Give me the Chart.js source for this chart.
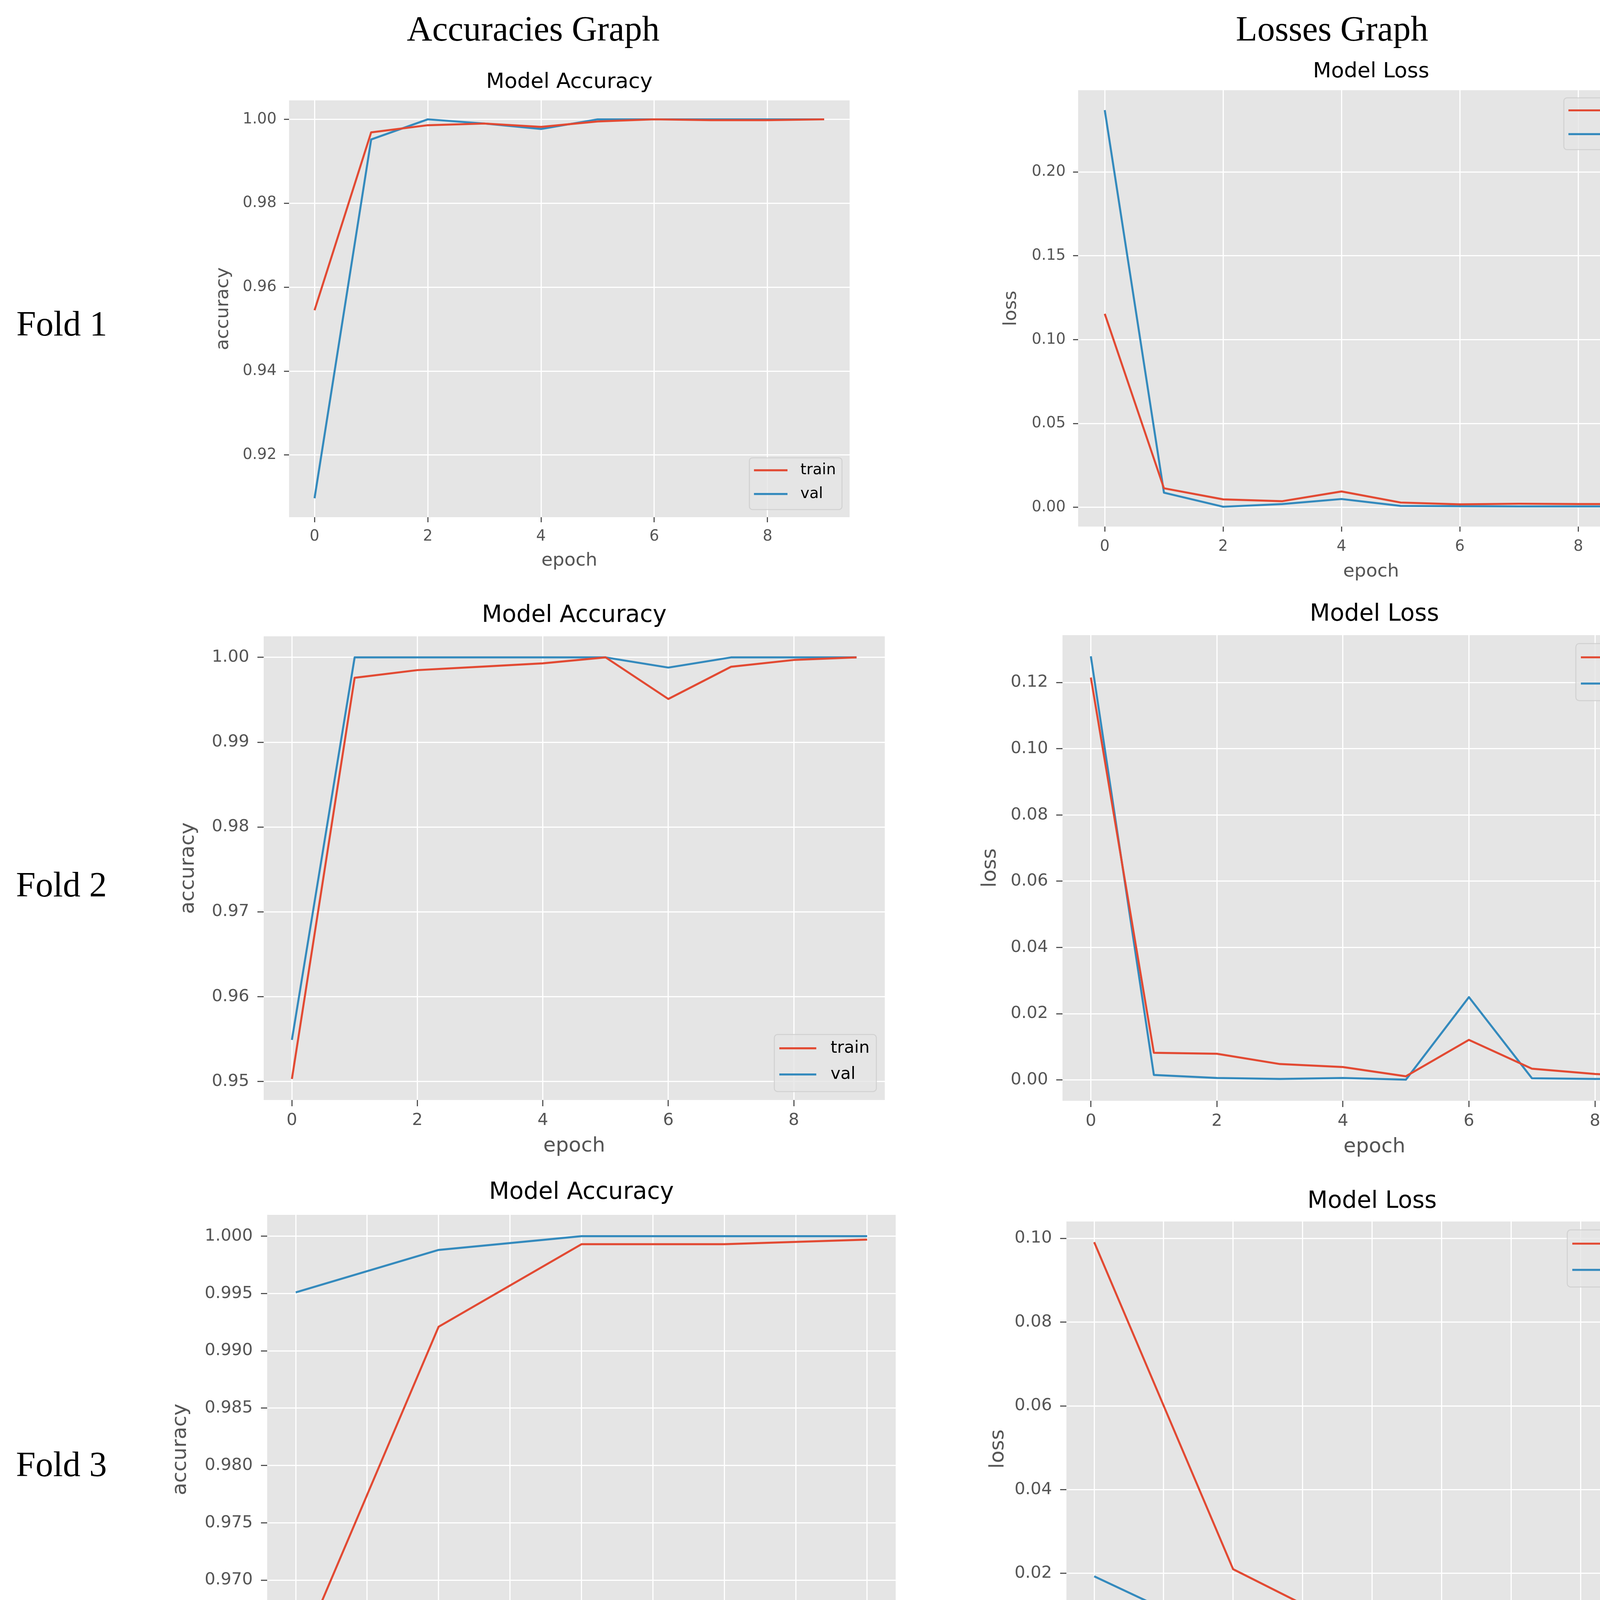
<!DOCTYPE html>
<html>
<head>
<meta charset="utf-8">
<title>Accuracies and Losses per fold</title>
<script src="https://cdn.jsdelivr.net/npm/chart.js@4.4.1/dist/chart.umd.min.js"></script>
<style>
  html, body { margin: 0; padding: 0; background: #fff; }
  body { width: 4350px; height: 4476px; position: relative; overflow: hidden; }
  .head, .fold { position: absolute; font-family: "Liberation Serif", serif; font-size: 90px; line-height: 90px; color: #000; white-space: nowrap; }
  .head { width: 1200px; text-align: center; }
  canvas { position: absolute; }
</style>
</head>
<body>
<div class="head" style="left:765px; top:29px">Accuracies Graph</div>
<div class="head" style="left:2810px; top:29px">Losses Graph</div>
<div class="fold" style="left:42px; top:784px">Fold 1</div>
<div class="fold" style="left:41px; top:2220px">Fold 2</div>
<div class="fold" style="left:41px; top:3704px">Fold 3</div>

<script>
// ---- data ----
const f1Epochs = [0, 1, 2, 3, 4, 5, 6, 7, 8, 9];
const f1AccTrain = [0.9545, 0.9969, 0.9986, 0.9990, 0.9982, 0.9995, 1.0000, 0.9998, 0.9998, 1.0000];
const f1AccVal = [0.9097, 0.9952, 1.0000, 0.9990, 0.9977, 1.0000, 1.0000, 1.0000, 1.0000, 1.0000];
const f1LossTrain = [0.1154, 0.0114, 0.0048, 0.0037, 0.0095, 0.0029, 0.0018, 0.0022, 0.0020, 0.0020];
const f1LossTest = [0.2369, 0.0088, 0.0004, 0.0020, 0.0050, 0.0009, 0.0007, 0.0006, 0.0006, 0.0006];

const f2Epochs = [0, 1, 2, 3, 4, 5, 6, 7, 8, 9];
const f2AccTrain = [0.9503, 0.9976, 0.9985, 0.9989, 0.9993, 1.0000, 0.9951, 0.9989, 0.9997, 1.0000];
const f2AccVal = [0.9549, 1.0000, 1.0000, 1.0000, 1.0000, 1.0000, 0.9988, 1.0000, 1.0000, 1.0000];
const f2LossTrain = [0.1215, 0.0082, 0.0079, 0.0048, 0.0039, 0.0011, 0.0121, 0.0034, 0.0018, 0.0009];
const f2LossTest = [0.1279, 0.0015, 0.0006, 0.0003, 0.0006, 0.0001, 0.0250, 0.0005, 0.0003, 0.0003];

const f3Epochs = [0, 1, 2, 3, 4];
const f3AccTrain = [0.9628, 0.9921, 0.9993, 0.9993, 0.9997];
const f3AccVal = [0.9951, 0.9988, 1.0000, 1.0000, 1.0000];
const f3LossTrain = [0.0991, 0.0210, 0.0043, 0.0034, 0.0010];
const f3LossTest = [0.0193, 0.0037, 0.0004, 0.0004, 0.0003];

// tick labels
const xTicks10 = ['0', '2', '4', '6', '8'];
const xTicks5 = ['0.0', '0.5', '1.0', '1.5', '2.0', '2.5', '3.0', '3.5', '4.0'];
const f1AccTicks = ['0.92', '0.94', '0.96', '0.98', '1.00'];
const f1LossTicks = ['0.00', '0.05', '0.10', '0.15', '0.20'];
const f2AccTicks = ['0.95', '0.96', '0.97', '0.98', '0.99', '1.00'];
const f2LossTicks = ['0.00', '0.02', '0.04', '0.06', '0.08', '0.10', '0.12'];
const f3AccTicks = ['0.965', '0.970', '0.975', '0.980', '0.985', '0.990', '0.995', '1.000'];
const f3LossTicks = ['0.00', '0.02', '0.04', '0.06', '0.08', '0.10'];

const RED = '#E24A33';
const BLUE = '#348ABD';
const FONT = '"DejaVu Sans", sans-serif';

// where each panel sits on the page (plot = left, top, right, bottom of the grey area)
const small = { tick: 39, label: 47, title: 54, tickLen: 13, tickPad: 19 };
const big = { tick: 43, label: 52, title: 60, tickLen: 16, tickPad: 21 };
const panels = [
  { epochs: f1Epochs, train: f1AccTrain, other: f1AccVal, otherLabel: 'val', title: 'Model Accuracy', yLabel: 'accuracy',
    xTicks: xTicks10, yTicks: f1AccTicks, legendAt: 'bottom', plot: [740, 257, 2175, 1324],
    titleY: 211, yLabelX: 571, xLabelY: 1435, xTickY: 1374, st: small },
  { epochs: f1Epochs, train: f1LossTrain, other: f1LossTest, otherLabel: 'test', title: 'Model Loss', yLabel: 'loss',
    xTicks: xTicks10, yTicks: f1LossTicks, legendAt: 'top', plot: [2760, 231, 4260, 1348],
    titleY: 184, yLabelX: 2588, xLabelY: 1463, xTickY: 1400, st: small },
  { epochs: f2Epochs, train: f2AccTrain, other: f2AccVal, otherLabel: 'val', title: 'Model Accuracy', yLabel: 'accuracy',
    xTicks: xTicks10, yTicks: f2AccTicks, legendAt: 'bottom', plot: [675, 1629, 2265, 2816],
    titleY: 1576, yLabelX: 482, xLabelY: 2934, xTickY: 2869, st: big },
  { epochs: f2Epochs, train: f2LossTrain, other: f2LossTest, otherLabel: 'test', title: 'Model Loss', yLabel: 'loss',
    xTicks: xTicks10, yTicks: f2LossTicks, legendAt: 'top', plot: [2720, 1626, 4317, 2818],
    titleY: 1573, yLabelX: 2535, xLabelY: 2936, xTickY: 2871, st: big },
  { epochs: f3Epochs, train: f3AccTrain, other: f3AccVal, otherLabel: 'val', title: 'Model Accuracy', yLabel: 'accuracy',
    xTicks: xTicks5, yTicks: f3AccTicks, legendAt: 'bottom', plot: [684, 3110, 2293, 4311],
    titleY: 3053, yLabelX: 462, xLabelY: 4429, xTickY: 4364, st: big },
  { epochs: f3Epochs, train: f3LossTrain, other: f3LossTest, otherLabel: 'test', title: 'Model Loss', yLabel: 'loss',
    xTicks: xTicks5, yTicks: f3LossTicks, legendAt: 'top', plot: [2730, 3127, 4295, 4292],
    titleY: 3076, yLabelX: 2555, xLabelY: 4408, xTickY: 4344, st: big }
];

// grey plot face, ggplot style
const plotBackground = {
  id: 'plotBackground',
  beforeDraw(chart) {
    const { ctx, chartArea: a } = chart;
    ctx.save();
    ctx.fillStyle = '#E5E5E5';
    ctx.fillRect(a.left, a.top, a.right - a.left, a.bottom - a.top);
    ctx.restore();
  }
};

// matplotlib-like legend drawn inside the plot corner
const plotLegend = {
  id: 'plotLegend',
  afterDatasetsDraw(chart, args, opts) {
    const { ctx, chartArea: a } = chart;
    const em = opts.size;
    const sets = chart.data.datasets;
    ctx.save();
    ctx.font = em + 'px ' + FONT;
    const textW = Math.max(...sets.map(d => ctx.measureText(d.label).width));
    const w = em * 3.75 + textW;
    const h = em * 3.4;
    const x = a.right - em * 0.5 - w;
    const y = opts.corner === 'top' ? a.top + em * 0.5 : a.bottom - em * 0.5 - h;
    ctx.beginPath();
    if (ctx.roundRect) ctx.roundRect(x, y, w, h, em * 0.2); else ctx.rect(x, y, w, h);
    ctx.fillStyle = 'rgba(229,229,229,0.8)';
    ctx.fill();
    ctx.lineWidth = 2.5;
    ctx.strokeStyle = 'rgba(204,204,204,0.8)';
    ctx.stroke();
    ctx.textBaseline = 'middle';
    ctx.textAlign = 'left';
    sets.forEach((d, i) => {
      const ry = y + em * (0.82 + i * 1.56);
      ctx.beginPath();
      ctx.moveTo(x + em * 0.3, ry);
      ctx.lineTo(x + em * 2.5, ry);
      ctx.strokeStyle = d.borderColor;
      ctx.lineWidth = d.borderWidth;
      ctx.stroke();
      ctx.fillStyle = '#000';
      ctx.fillText(d.label, x + em * 3.35, ry);
    });
    ctx.restore();
  }
};

function makePanel(p) {
  const [l, t, r, b] = p.plot;
  const st = p.st;
  const left = Math.round(p.yLabelX - st.label / 2);
  const top = Math.round(p.titleY - st.title / 2);
  const bottom = Math.round(p.xLabelY + st.label / 2);
  const padRight = 30;
  const canvas = document.createElement('canvas');
  canvas.width = r + padRight - left;
  canvas.height = bottom - top;
  canvas.style.left = left + 'px';
  canvas.style.top = top + 'px';
  document.body.appendChild(canvas);

  const yAxisW = l - left;
  const xAxisH = bottom - b;
  const titlePad = t - top - st.title;
  const xPad = p.xTickY - b - st.tickLen - st.tick / 2;

  const all = p.train.concat(p.other);
  const lo = Math.min(...all), hi = Math.max(...all), m = (hi - lo) * 0.05;
  const xLo = Math.min(...p.epochs), xHi = Math.max(...p.epochs), xm = (xHi - xLo) * 0.05;

  const grid = { color: '#FFFFFF', lineWidth: 3, tickColor: '#555555', tickWidth: 3, tickLength: st.tickLen };
  const tickFont = { family: FONT, size: st.tick, lineHeight: 1 };
  const labelFont = { family: FONT, size: st.label, lineHeight: 1 };
  const line = (label, ys, color) => ({
    label,
    data: p.epochs.map((e, i) => ({ x: e, y: ys[i] })),
    borderColor: color,
    backgroundColor: color,
    borderWidth: 5.2,
    borderJoinStyle: 'round',
    pointRadius: 0,
    tension: 0,
    fill: false
  });

  new Chart(canvas, {
    type: 'line',
    data: { datasets: [line('train', p.train, RED), line(p.otherLabel, p.other, BLUE)] },
    options: {
      responsive: false,
      animation: false,
      devicePixelRatio: 1,
      events: [],
      layout: { padding: { right: padRight } },
      plugins: {
        legend: { display: false },
        tooltip: { enabled: false },
        title: {
          display: true, text: p.title, fullSize: false, color: '#000000',
          font: { family: FONT, size: st.title, weight: 'normal', lineHeight: 1 },
          padding: { top: 0, bottom: titlePad }
        },
        plotLegend: { corner: p.legendAt, size: st.tick }
      },
      scales: {
        x: {
          type: 'linear',
          min: xLo - xm,
          max: xHi + xm,
          afterBuildTicks: s => { s.ticks = p.xTicks.map(v => ({ value: parseFloat(v) })); },
          afterFit: s => { s.height = xAxisH; },
          ticks: { callback: (v, i) => p.xTicks[i], color: '#555555', font: tickFont, padding: xPad, maxRotation: 0, autoSkip: false },
          grid: grid,
          border: { display: false },
          title: { display: true, text: 'epoch', color: '#555555', font: labelFont, padding: 0 }
        },
        y: {
          type: 'linear',
          min: lo - m,
          max: hi + m,
          afterBuildTicks: s => { s.ticks = p.yTicks.map(v => ({ value: parseFloat(v) })); },
          afterFit: s => { s.width = yAxisW; },
          ticks: { callback: (v, i) => p.yTicks[i], color: '#555555', font: tickFont, padding: st.tickPad, autoSkip: false },
          grid: grid,
          border: { display: false },
          title: { display: true, text: p.yLabel, color: '#555555', font: labelFont, padding: 0 }
        }
      }
    },
    plugins: [plotBackground, plotLegend]
  });
}

panels.forEach(makePanel);
</script>
</body>
</html>
